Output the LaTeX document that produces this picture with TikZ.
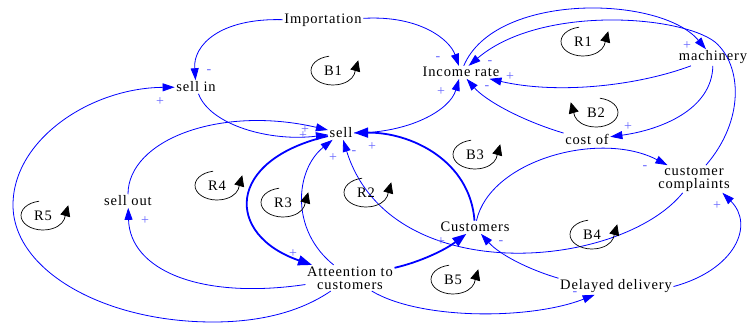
\documentclass[tikz,border=0pt]{standalone}
\usepackage{fontspec}
\setmainfont{Liberation Serif}[LetterSpace=6]
\usetikzlibrary{arrows.meta}
\definecolor{linkblue}{RGB}{0,0,255}
\definecolor{polblue}{RGB}{100,100,255}
\tikzset{
  vnode/.style={font=\fontsize{14.5}{13}\selectfont, inner sep=1.5pt, align=center, text=black},
  lnk/.style={draw=linkblue, line width=0.8pt, -{Triangle[length=12pt,width=8pt]}},
  thk/.style={draw=linkblue, line width=1.8pt, -{Triangle[length=14pt,width=10pt]}},
  pol/.style={text=polblue, font=\fontsize{14}{14}\selectfont, inner sep=0pt},
  lplabel/.style={font=\fontsize{14.5}{13}\selectfont, inner sep=0pt},
  loopc/.style={draw=black, line width=0.7pt, -{Triangle[length=11pt,width=10pt]}},
}
\newcommand{\cldloopR}[4]{%
  \node[lplabel] (#4) at (#1,#2) {#3};
  \draw[loopc] (#1,#2) ++(-100:22 and 14.5) arc[start angle=-100,end angle=-345,x radius=22,y radius=14.5] -- ++(4,-14);
}
\newcommand{\cldloopL}[4]{%
  \node[lplabel] (#4) at (#1,#2) {#3};
  \draw[loopc] (#1,#2) ++(-80:22 and 14.5) arc[start angle=-80,end angle=165,x radius=22,y radius=14.5] -- ++(-4,-14);
}
\begin{document}
\begin{tikzpicture}[x=1pt,y=-1pt]
\useasboundingbox (0,0) rectangle (750,323);

% variables
\node[vnode,anchor=base] (imp) at (323,24) {Importation};
\node[vnode,anchor=base] (sellin) at (196,92) {sell in};
\node[vnode,anchor=base] (income) at (461,77) {Income rate};
\node[vnode,anchor=base] (mach) at (713,61) {machinery};
\node[vnode,anchor=base] (costof) at (587,145) {cost of};
\node[vnode,anchor=base] (sell) at (341,138) {sell};
\node[vnode,anchor=base] (sellout) at (128,206) {sell out};
\node[vnode] (cc) at (694,179) {customer\\complaints};
\node[vnode,anchor=base] (cust) at (475,232) {Customers};
\node[vnode] (att) at (350,278) {Atteention to\\customers};
\node[vnode,anchor=base] (dd) at (616,290) {Delayed delivery};

% links
\draw[lnk] (imp) .. controls (220,18) and (193,45) .. (sellin);
\draw[lnk] (imp) .. controls (420,15) and (450,40) .. (income);
\draw[lnk] (sellin) .. controls (210,125) and (270,142) .. (sell);
\draw[lnk] (sellout) .. controls (128,140) and (220,105) .. (sell);
\draw[thk] (sell) .. controls (225,160) and (225,235) .. (att);
\draw[lnk] (att) .. controls (290,230) and (295,170) .. (sell);
\draw[thk] (cust) .. controls (470,160) and (410,132) .. (sell);
\draw[lnk] (cc) .. controls (620,270) and (390,290) .. (sell);
\draw[thk] (att) .. controls (420,262) and (445,250) .. (cust);
\draw[lnk] (dd.north west) .. controls (530,270) and (500,255) .. (cust);
\draw[lnk] (cust) .. controls (490,160) and (600,130) .. (cc);
\draw[lnk] (dd.east) .. controls (735,270) and (755,225) .. ([xshift=-9pt]cc.south east);
\draw[lnk] (att) .. controls (420,320) and (530,320) .. (dd);
\draw[lnk] (att) .. controls (200,300) and (130,270) .. (sellout);
\draw[lnk] (att) .. controls (300,312) and (260,322) .. (213,322)
   .. controls (103,322) and (13,270) .. (13,205)
   .. controls (13,140) and (90,88) .. (sellin);
\draw[lnk] (sell) .. controls (410,133) and (450,110) .. (income);
\draw[lnk] (income) .. controls (495,-8) and (660,-5) .. (mach);
\draw[lnk] (cc) .. controls (745,120) and (742,65) .. (715,42)
   .. controls (680,15) and (540,5) .. (income);
\draw[lnk] (mach) .. controls (640,85) and (560,95) .. (income);
\draw[lnk] (mach) .. controls (712,110) and (660,130) .. (costof);
\draw[lnk] (costof.north west) .. controls (520,120) and (485,100) .. (income);

% polarities
\node[pol] (p1) at (209,72) {-};
\node[pol] (p2) at (438,59) {-};
\node[pol] (p3) at (160,102) {+};
\node[pol] (p4) at (305,130) {+};
\node[pol] (p5) at (303,136) {+};
\node[pol] (p6) at (333,158) {+};
\node[pol] (p7) at (354,153) {-};
\node[pol] (p8) at (372,147) {+};
\node[pol] (p9) at (293,254) {+};
\node[pol] (p10) at (145,221) {+};
\node[pol] (p11) at (441,92) {+};
\node[pol] (p12) at (490,63) {-};
\node[pol] (p13) at (510,77) {+};
\node[pol] (p14) at (487,88) {-};
\node[pol] (p15) at (687,46) {+};
\node[pol] (p16) at (628,127) {+};
\node[pol] (p17) at (645,168) {-};
\node[pol] (p18) at (717,206) {+};
\node[pol] (p19) at (441,242) {+};
\node[pol] (p20) at (501,243) {-};
\node[pol] (p21) at (575,294) {-};

% loop markers
\cldloopR{333}{70.5}{B1}{lB1}
\cldloopR{583}{41.5}{R1}{lR1}
\cldloopL{596}{112.5}{B2}{lB2}
\cldloopR{475}{154.5}{B3}{lB3}
\cldloopR{366}{192.5}{R2}{lR2}
\cldloopR{283}{202.5}{R3}{lR3}
\cldloopR{217}{185.5}{R4}{lR4}
\cldloopR{43}{215.5}{R5}{lR5}
\cldloopR{592}{234.5}{B4}{lB4}
\cldloopR{453}{279.5}{B5}{lB5}
\end{tikzpicture}
\end{document}
